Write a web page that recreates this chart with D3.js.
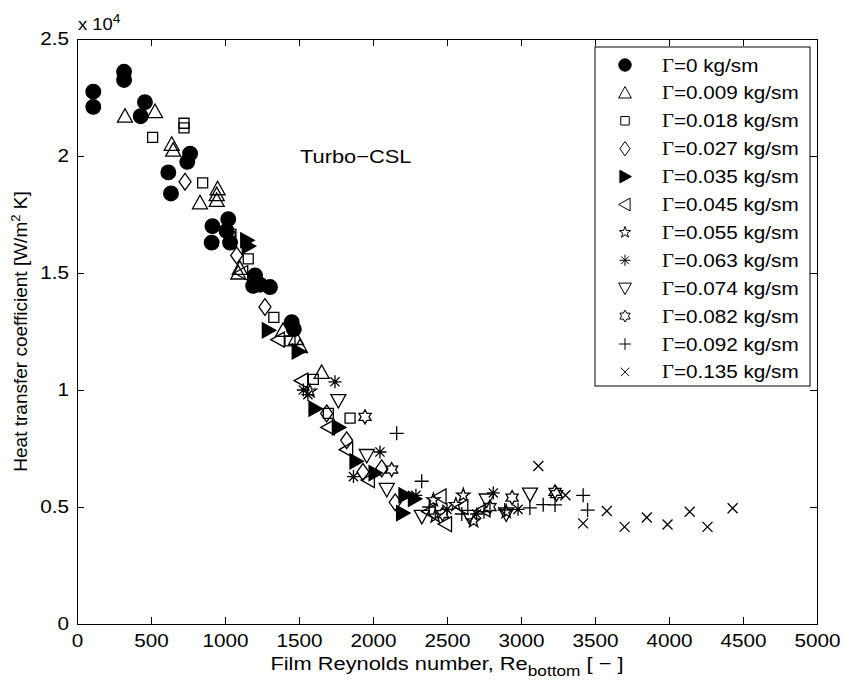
<!DOCTYPE html>
<html>
<head>
<meta charset="utf-8">
<script src="https://cdn.jsdelivr.net/npm/d3@7"></script>
<style>
  body { margin: 0; background: #fff; }
  text { font-family: "Liberation Sans", Arial, Helvetica, sans-serif; fill: #000; }
</style>
</head>
<body>
<div id="canvas"></div>
<script>
// Data: [Re_bottom, h] pairs, one array per flow rate

let g0 = [[110,22100],[110,22750],[318,23250],[318,23600],[430,21700],[459,22300],[617,19300],[635,18400],
  [745,19750],[764,20100],[910,16300],[915,17000],[1010,16800],[1022,17300],[1034,16300],[1190,14450],
  [1203,14900],[1236,14500],[1304,14400],[1451,12900],[1465,12600]];
let g009 = [[324,21700],[527,21900],[640,20500],[650,20250],[831,18000],[944,18100],[944,18350],[950,18600],
  [1090,15000],[1100,15200],[1392,12550],[1480,12200],[1507,11850],[1653,10750]];
let g018 = [[511,20800],[723,21200],[723,21400],[849,18850],[1034,16550],[1040,16650],[1157,15600],
  [1330,13100],[1439,12100],[1597,10450],[1698,9000],[1845,8800]];
let g027 = [[730,18900],[1079,15750],[1270,13550],[1687,9000],[1822,7850],[1932,6500],[2059,6650],[2150,5200]];
let g035 = [[1147,16400],[1157,16150],[1293,12550],[1495,11650],[1608,9200],[1766,8400],[1885,6950],
  [2014,6450],[2216,5500],[2200,4740],[2280,5350]];
let g045 = [[1113,15000],[1360,12150],[1518,10400],[1698,8400],[1822,7450],[1969,6150],[2453,5450],
  [2490,4270],[2380,4800],[2600,5000],[2750,4900]];
let g055 = [[1574,9950],[2408,5300],[2610,5500],[2680,4400],[2420,4600],[2560,5100],[2900,4800]];
let g063 = [[1529,10000],[1560,9800],[1743,10350],[1868,6300],[2047,7350],[2290,5500],[2500,4900],
  [2700,4700],[2813,5600],[2980,4900]];
let g074 = [[1766,9550],[1958,7200],[2093,5750],[2330,4600],[2650,4600],[2768,5300],[2900,4700],[3061,5550]];
let g082 = [[1946,8850],[2126,6600],[2470,4700],[2790,5000],[2940,5400],[3230,5650],[3240,5550]];
let g092 = [[2160,8150],[2329,6100],[2380,5000],[2600,4700],[2750,4800],[2890,4870],[3060,4960],
  [3150,5100],[3230,5090],[3420,5500],[3450,4870]];
let g135 = [[3117,6750],[3300,5500],[3420,4300],[3580,4830],[3700,4150],[3850,4550],[3990,4250],
  [4140,4800],[4260,4150],[4430,4950]];

let seriesData = [g0, g009, g018, g027, g035, g045, g055, g063, g074, g082, g092, g135];
let seriesRates = ["0", "0.009", "0.018", "0.027", "0.035", "0.045", "0.055", "0.063", "0.074", "0.082", "0.092", "0.135"];
let seriesMarkers = ["o", "^", "s", "d", ">", "<", "p", "*", "v", "h", "+", "x"];

let xTicks = [0, 500, 1000, 1500, 2000, 2500, 3000, 3500, 4000, 4500, 5000];
let yTicks = [0, 5000, 10000, 15000, 20000, 25000];
let yTickLabels = ["0", "0.5", "1", "1.5", "2", "2.5"];

// Setting dimensions

let W = 846, H = 687;
let margin = {top: 39, right: 29, bottom: 63, left: 77};
let width = W - margin.left - margin.right;
let height = H - margin.top - margin.bottom;

// the exported figure is a little wider than tall, so text is stretched sideways
let SX = 1.15;

let svg = d3.select("#canvas")
    .append("svg")
    .attr("width", W)
    .attr("height", H)
    .style("background-color", "#fff");

let g = svg.append("g")
    .attr("transform", "translate(" + margin.left + ", " + margin.top + ")");

// Scales

let xScale = d3.scaleLinear().domain([0, 5000]).range([0, width]);
let yScale = d3.scaleLinear().domain([0, 25000]).range([height, 0]);

// Marker shapes (MATLAB style)

function starPath(n, ro, ri) {
    let pts = [];
    for (let i = 0; i < 2 * n; i++) {
        let a = -Math.PI / 2 + i * Math.PI / n;
        let r = i % 2 === 0 ? ro : ri;
        pts.push([r * Math.cos(a), r * Math.sin(a)]);
    }
    return "M" + pts.map(p => p[0].toFixed(2) + "," + p[1].toFixed(2)).join("L") + "Z";
}

function markerPath(type, k) {
    let r;
    switch (type) {
        case "o": r = 7.3 * k; return "M" + (-r) + ",0A" + r + "," + r + " 0 1,0 " + r + ",0A" + r + "," + r + " 0 1,0 " + (-r) + ",0Z";
        case "^": r = 7.5 * k; return "M0," + (-r) + "L" + r + "," + (r * 0.8) + "L" + (-r) + "," + (r * 0.8) + "Z";
        case "v": r = 7.5 * k; return "M0," + r + "L" + r + "," + (-r * 0.8) + "L" + (-r) + "," + (-r * 0.8) + "Z";
        case ">": r = 7.5 * k; return "M" + r + ",0L" + (-r * 0.8) + "," + (-r) + "L" + (-r * 0.8) + "," + r + "Z";
        case "<": r = 7.5 * k; return "M" + (-r) + ",0L" + (r * 0.8) + "," + (-r) + "L" + (r * 0.8) + "," + r + "Z";
        case "s": r = 5 * k; return "M" + (-r) + "," + (-r) + "H" + r + "V" + r + "H" + (-r) + "Z";
        case "d": r = 6 * k; return "M0," + (-r * 1.4) + "L" + r + ",0L0," + (r * 1.4) + "L" + (-r) + ",0Z";
        case "p": return starPath(5, 7 * k, 2.8 * k);
        case "h": return starPath(6, 7 * k, 4 * k);
        case "*": {
            r = 6.5 * k;
            let d = "";
            for (let i = 0; i < 4; i++) {
                let a = i * Math.PI / 4;
                d += "M" + (r * Math.cos(a)).toFixed(2) + "," + (r * Math.sin(a)).toFixed(2) +
                     "L" + (-r * Math.cos(a)).toFixed(2) + "," + (-r * Math.sin(a)).toFixed(2);
            }
            return d;
        }
        case "+": r = 7 * k; return "M" + (-r) + ",0H" + r + "M0," + (-r) + "V" + r;
        case "x": r = 5 * k; return "M" + (-r) + "," + (-r) + "L" + r + "," + r + "M" + r + "," + (-r) + "L" + (-r) + "," + r;
    }
}

let filledMarkers = ["o", ">"];

// Axes box and inward ticks

g.append("rect")
    .attr("width", width).attr("height", height)
    .attr("fill", "#fff").attr("stroke", "none");

let xAxis = g.append("g")
    .attr("transform", "translate(0, " + height + ")")
    .call(d3.axisBottom(xScale).tickValues(xTicks).tickFormat(d3.format("d"))
        .tickSizeInner(-7).tickSizeOuter(0).tickPadding(10));

let xAxisTop = g.append("g")
    .call(d3.axisTop(xScale).tickValues(xTicks).tickFormat("")
        .tickSizeInner(-7).tickSizeOuter(0));

let yAxis = g.append("g")
    .call(d3.axisLeft(yScale).tickValues(yTicks).tickFormat((d, i) => yTickLabels[i])
        .tickSizeInner(-7).tickSizeOuter(0).tickPadding(9));

let yAxisRight = g.append("g")
    .attr("transform", "translate(" + width + ", 0)")
    .call(d3.axisRight(yScale).tickValues(yTicks).tickFormat("")
        .tickSizeInner(-7).tickSizeOuter(0));

[xAxis, xAxisTop, yAxis, yAxisRight].forEach(a => {
    a.select(".domain").remove();
    a.selectAll("line").attr("stroke", "#000").attr("stroke-width", 1);
    a.selectAll("text")
        .style("font-family", "'Liberation Sans', Arial, sans-serif")
        .style("font-size", "18px")
        .attr("fill", "#000")
        .attr("transform", "scale(" + SX + ",1)");
});
yAxis.selectAll("text").attr("x", -8 / SX);

// Plotting the data

seriesData.forEach((data, i) => {
    let m = seriesMarkers[i];
    let filled = filledMarkers.includes(m);
    g.append("g")
        .selectAll("path")
        .data(data)
        .enter()
        .append("path")
        .attr("transform", d => "translate(" + xScale(d[0]) + ", " + yScale(d[1]) + ")")
        .attr("d", markerPath(m, 1))
        .attr("fill", filled ? "#000" : "none")
        .attr("stroke", "#000")
        .attr("stroke-width", 1.3)
        .attr("stroke-linejoin", "miter");
});

g.append("rect")
    .attr("x", 0.5).attr("y", 0.5)
    .attr("width", width).attr("height", height)
    .attr("fill", "none").attr("stroke", "#000").attr("stroke-width", 1);

// helper for stretched text placed at (x, y)
function label(parent, x, y, size) {
    return parent.append("text")
        .attr("transform", "translate(" + x + ", " + y + ") scale(" + SX + ",1)")
        .style("font-size", size + "px");
}

// Annotation

label(g, 223, 124, 19).text("Turbo\u2212CSL");

// Legend

let legend = svg.append("g").attr("transform", "translate(595, 47)");

legend.append("rect")
    .attr("width", 215).attr("height", 339)
    .attr("fill", "#fff").attr("stroke", "#000").attr("stroke-width", 1);

seriesRates.forEach((rate, i) => {
    let y = 18 + i * 27.9;
    let m = seriesMarkers[i];
    legend.append("path")
        .attr("transform", "translate(30, " + y + ")")
        .attr("d", markerPath(m, 0.85))
        .attr("fill", filledMarkers.includes(m) ? "#000" : "none")
        .attr("stroke", "#000")
        .attr("stroke-width", 1);
    let t = label(legend, 67, y + 6.5, 18);
    t.append("tspan").style("font-family", "'Liberation Serif', 'Times New Roman', serif").text("\u0393");
    t.append("tspan").text("=" + rate + " kg/sm");
});

// Exponent label

let exp = label(svg, 78, 30, 16);
exp.append("tspan").text("x 10");
exp.append("tspan").attr("dy", -7).style("font-size", "12px").text("4");

// Axis titles

let xl = label(svg, margin.left + width / 2, 670, 19)
    .style("text-anchor", "middle");
xl.append("tspan").text("Film Reynolds number, Re");
xl.append("tspan").attr("dy", 6).style("font-size", "15px").text("bottom");
xl.append("tspan").attr("dy", -6).text(" [ \u2212 ]");

let yl = svg.append("text")
    .attr("transform", "translate(27, " + (margin.top + height / 2) + ") rotate(-90)")
    .style("font-size", "19px")
    .style("text-anchor", "middle");
yl.append("tspan").text("Heat transfer coefficient [W/m");
yl.append("tspan").attr("dy", -7).style("font-size", "13px").text("2");
yl.append("tspan").attr("dy", 7).text(" K]");
</script>
</body>
</html>
